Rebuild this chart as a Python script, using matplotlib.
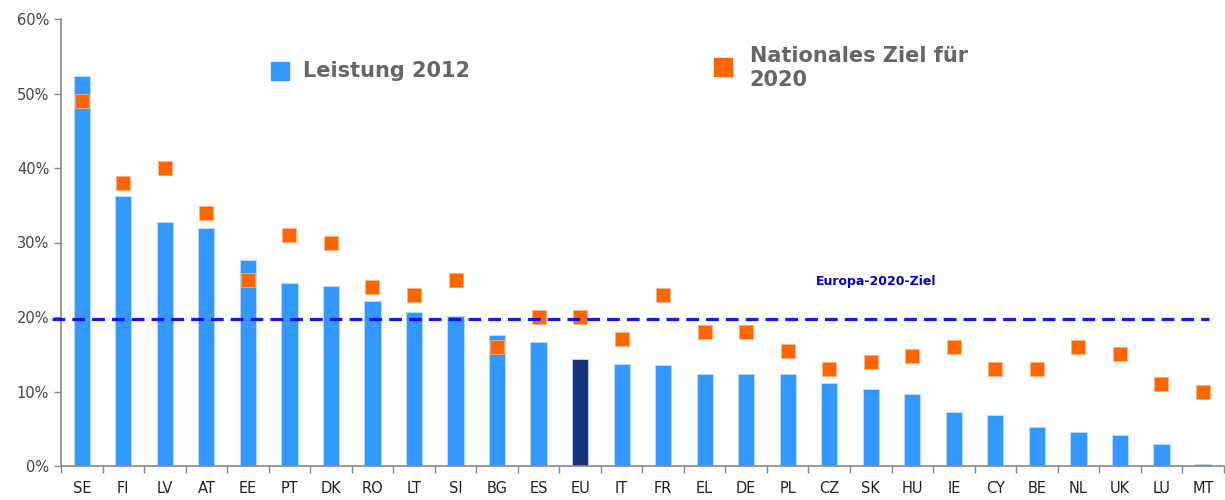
import matplotlib
matplotlib.use("Agg")
import matplotlib.pyplot as plt
from matplotlib.ticker import FixedLocator, FuncFormatter

countries = ["SE", "FI", "LV", "AT", "EE", "PT", "DK", "RO", "LT", "SI", "BG", "ES", "EU", "IT",
             "FR", "EL", "DE", "PL", "CZ", "SK", "HU", "IE", "CY", "BE", "NL", "UK", "LU", "MT"]
# share of renewables in gross final energy consumption, 2012 (%)
leistung_2012 = [52.3, 36.3, 32.8, 32.0, 27.6, 24.5, 24.2, 22.1, 20.7, 20.1, 17.6, 16.6, 14.3, 13.7,
                 13.5, 12.4, 12.4, 12.4, 11.2, 10.4, 9.6, 7.2, 6.8, 5.3, 4.5, 4.1, 3.0, 0.3]
# national 2020 target (%)
ziel_2020 = [49, 38, 40, 34, 25, 31, 30, 24, 23, 25, 16, 20, 20, 17,
             23, 18, 18, 15.5, 13, 14, 14.7, 16, 13, 13, 16, 15, 11, 10]
europa_ziel = 19.7

blue, navy, orange = "#3399FF", "#14337A", "#FF6600"
grey_txt = "#666666"

fig = plt.figure(figsize=(12.25, 5), dpi=100)
ax = fig.add_axes([0.0498, 0.068, 0.9492, 0.894])

x = range(len(countries))
colors = [navy if c == "EU" else blue for c in countries]
ax.bar(x, leistung_2012, width=0.39, color=colors, edgecolor="#BBDDFF", linewidth=0.6, zorder=2)
ax.plot(x, ziel_2020, ls="none", marker="s", ms=9.5, color=orange, mec="#FFB080", mew=0.5, zorder=3)
ax.plot([-0.72, 27.15], [europa_ziel] * 2, color="#0000EE", lw=2.3, ls=(0, (4, 2.2)), alpha=0.9,
        zorder=4, clip_on=False)
ax.text(17.67, 24.8, "Europa-2020-Ziel", color="#0000CC", fontsize=9, fontweight="bold", va="center")

# legend drawn as free markers + text
ax.plot([4.77], [53.0], ls="none", marker="s", ms=13, color=blue, clip_on=False)
ax.text(5.32, 53.0, "Leistung 2012", color=grey_txt, fontsize=15, fontweight="bold", va="center")
ax.plot([15.43], [53.6], ls="none", marker="s", ms=13, color=orange, clip_on=False)
ax.text(16.08, 53.4, "Nationales Ziel für\n2020", color=grey_txt, fontsize=15, fontweight="bold",
        va="center", linespacing=1.25)

ax.set_xlim(-0.5, len(countries) - 0.5)
ax.set_ylim(0, 60)
ax.set_yticks(range(0, 61, 10))
ax.yaxis.set_major_formatter(FuncFormatter(lambda v, _: f"{v:.0f}%"))
ax.set_xticks(list(x))
ax.set_xticklabels(countries)
ax.xaxis.set_minor_locator(FixedLocator([i - 0.5 for i in range(len(countries) + 1)]))
ax.tick_params(axis="x", which="major", length=0, pad=11, labelsize=10.5, labelcolor="#222222")
ax.tick_params(axis="x", which="minor", length=5, color="#888888", width=1)
ax.tick_params(axis="y", length=5, color="#888888", width=1, labelsize=10.5, labelcolor="#444444")
for s in ("top", "right"):
    ax.spines[s].set_visible(False)
for s in ("left", "bottom"):
    ax.spines[s].set_color("#888888")
    ax.spines[s].set_linewidth(1.2)

fig.savefig("out.png", dpi=100)
